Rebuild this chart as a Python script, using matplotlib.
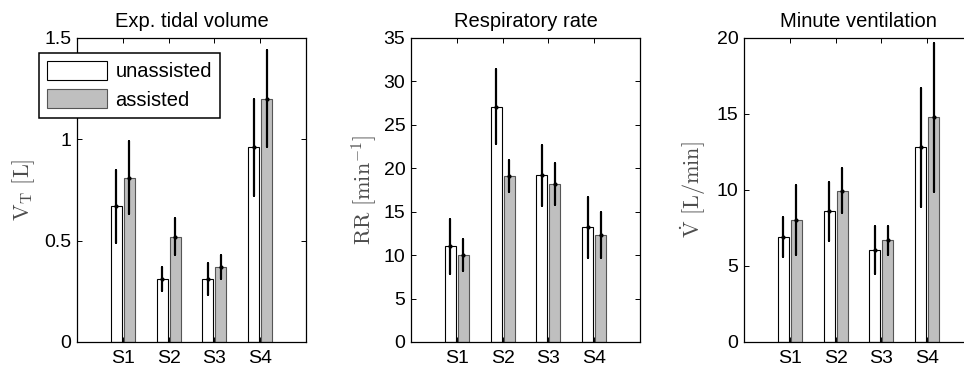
import numpy as np
import matplotlib
matplotlib.use("Agg")
import matplotlib.pyplot as plt

# --- data ---
subjects = ["S1", "S2", "S3", "S4"]
series_names = ["unassisted", "assisted"]

vt_unassisted = [0.67, 0.31, 0.31, 0.96]
vt_assisted = [0.81, 0.52, 0.37, 1.20]
vt_err_unassisted = [0.18, 0.06, 0.08, 0.24]
vt_err_assisted = [0.18, 0.09, 0.06, 0.24]

rr_unassisted = [11.0, 27.1, 19.2, 13.2]
rr_assisted = [10.0, 19.1, 18.2, 12.3]
rr_err_unassisted = [3.2, 4.3, 3.5, 3.5]
rr_err_assisted = [1.85, 1.8, 2.4, 2.65]

mv_unassisted = [6.9, 8.6, 6.05, 12.8]
mv_assisted = [8.0, 9.95, 6.7, 14.8]
mv_err_unassisted = [1.3, 1.95, 1.6, 3.9]
mv_err_assisted = [2.3, 1.47, 0.95, 4.9]

titles = ["Exp. tidal volume", "Respiratory rate", "Minute ventilation"]
ylabels = [r"$\mathrm{V_T\ [L]}$", r"$\mathrm{RR\ [min^{-1}]}$",
           r"$\mathrm{\dot{V}\ [L/min]}$"]
ylims = [(0, 1.5), (0, 35), (0, 20)]
yticks = [[0, 0.5, 1, 1.5], [0, 5, 10, 15, 20, 25, 30, 35], [0, 5, 10, 15, 20]]
yticklabels = [["0", "0.5", "1", "1.5"], None, None]

panels = [
    (vt_unassisted, vt_assisted, vt_err_unassisted, vt_err_assisted),
    (rr_unassisted, rr_assisted, rr_err_unassisted, rr_err_assisted),
    (mv_unassisted, mv_assisted, mv_err_unassisted, mv_err_assisted),
]

plt.rcParams["font.family"] = ["Liberation Sans", "DejaVu Sans"]
plt.rcParams["mathtext.fontset"] = "cm"

W, H = 964, 376
fig = plt.figure(figsize=(W / 100, H / 100), dpi=100)

lefts_px = [77, 411, 744]
ax_w, ax_top, ax_bot = 229, 38, 342
ylabel_off = [-0.232, -0.205, -0.222]

x = np.arange(1, len(subjects) + 1)
bw = 0.24
off = 0.14
gray = "#bfbfbf"
ylab_color = "#4d4d4d"

axes = []
for i, (u, a, eu, ea) in enumerate(panels):
    ax = fig.add_axes([lefts_px[i] / W, 1 - ax_bot / H, ax_w / W, (ax_bot - ax_top) / H])
    axes.append(ax)
    ax.bar(x - off, u, bw, color="white", edgecolor="black", linewidth=0.8,
           label=series_names[0], zorder=2)
    ax.bar(x + off, a, bw, color=gray, edgecolor="#555555", linewidth=0.8,
           label=series_names[1], zorder=2)
    ax.errorbar(x - off, u, yerr=eu, fmt=".", color="black", ms=4, elinewidth=1.6,
                capsize=0.8, capthick=1.4, zorder=3)
    ax.errorbar(x + off, a, yerr=ea, fmt=".", color="black", ms=4, elinewidth=1.6,
                capsize=0.8, capthick=1.4, zorder=3)

    ax.set_xlim(0, 5)
    ax.set_ylim(*ylims[i])
    ax.set_xticks(x)
    ax.set_xticklabels(subjects)
    ax.set_yticks(yticks[i])
    if yticklabels[i] is not None:
        ax.set_yticklabels(yticklabels[i])
    ax.tick_params(direction="in", top=True, right=True, length=3.5, width=0.7,
                   labelsize=14)
    ax.tick_params(axis="x", pad=6)
    ax.tick_params(axis="y", pad=4)
    for s in ax.spines.values():
        s.set_linewidth(0.9)
    ax.set_title(titles[i], fontsize=14.5, pad=8)
    ax.set_ylabel(ylabels[i], fontsize=16, color=ylab_color, va="center")
    ax.yaxis.set_label_coords(ylabel_off[i], 0.5)

leg = axes[0].legend(loc="upper left", bbox_to_anchor=(39 / W, 1 - 53 / H),
                     bbox_transform=fig.transFigure, fontsize=14.5, frameon=True,
                     fancybox=False, framealpha=1, edgecolor="black",
                     handlelength=3.0, handleheight=1.05, handletextpad=0.4,
                     borderpad=0.4, labelspacing=0.4, borderaxespad=0)
leg.get_frame().set_linewidth(1.1)
leg.set_zorder(5)

fig.savefig("out.png", dpi=100)
